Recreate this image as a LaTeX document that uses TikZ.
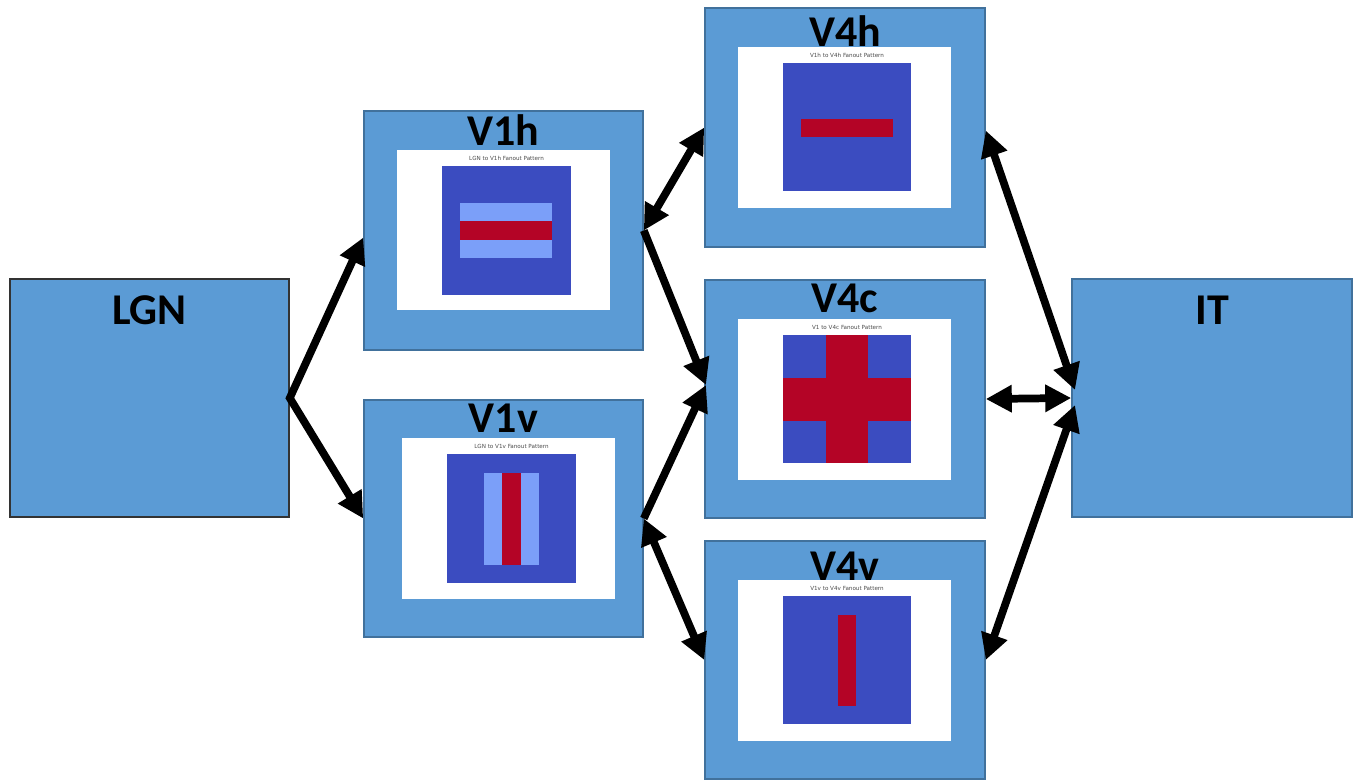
\documentclass[tikz,border=0pt]{standalone}
\usepackage{fontspec}
\usepackage{tikz}
\usetikzlibrary{arrows.meta,positioning}
\newfontfamily\areafont{Carlito}
\newfontfamily\plotfont{DejaVu Sans}
\definecolor{areablue}{HTML}{5B9BD5}
\definecolor{areaedge}{HTML}{41719C}
\definecolor{mapblue}{HTML}{3B4CC0}
\definecolor{mapmid}{HTML}{7B9FF9}
\definecolor{mapred}{HTML}{B40426}
\tikzset{
  area/.style={draw=areaedge, fill=areablue, minimum width=2.8cm, minimum height=2.38cm, inner sep=0pt},
  areaname/.style={font=\areafont\bfseries\fontsize{12.5}{14}\selectfont, inner sep=0pt},
  sheet/.style={fill=white, minimum width=2.13cm, minimum height=1.6cm, inner sep=0pt},
  fanmap/.style={fill=mapblue, minimum size=1.28cm, inner sep=0pt},
  maptitle/.style={font=\plotfont\fontsize{1.6}{2}\selectfont, text=black!70, inner sep=0pt},
  link/.style={line width=2.2pt, line join=miter, -{Triangle[length=2.6mm,width=2.6mm]}},
  dlink/.style={line width=2.2pt, line join=miter, {Triangle[length=2.6mm,width=2.6mm]}-{Triangle[length=2.6mm,width=2.6mm]}}
}

\begin{document}
\begin{tikzpicture}[x=0.01cm, y=-0.01cm]
  \useasboundingbox (0,0) rectangle (1358,779);

  % cortical areas
  \node[area, draw=black!80, minimum width=2.79cm] (lgn) at (149.5,398) {};
  \node[area, minimum width=2.79cm, minimum height=2.39cm] (v1h) at (503.5,230.5) {};
  \node[area, minimum width=2.79cm, minimum height=2.37cm] (v1v) at (503.5,518.5) {};
  \node[area, minimum height=2.39cm] (v4h) at (845,127.5) {};
  \node[area] (v4c) at (845,399) {};
  \node[area] (v4v) at (845,660) {};
  \node[area] (it) at (1212,398) {};

  \node[areaname] at ([yshift=-0.32cm]lgn.north) {LGN};
  \node[areaname] at ([yshift=-0.2cm]v1h.north) {V1h};
  \node[areaname] at ([yshift=-0.19cm]v1v.north) {V1v};
  \node[areaname] at ([yshift=-0.24cm]v4h.north) {V4h};
  \node[areaname] at ([yshift=-0.19cm]v4c.north) {V4c};
  \node[areaname] at ([yshift=-0.26cm]v4v.north) {V4v};
  \node[areaname] at ([yshift=-0.32cm]it.north) {IT};

  % fanout maps
  \node[sheet] (v1hsheet) at (503.5,230) {};
  \node[sheet] (v1vsheet) at (508.5,518.5) {};
  \node[sheet] (v4hsheet) at (844.5,127.5) {};
  \node[sheet] (v4csheet) at (844.5,399.5) {};
  \node[sheet] (v4vsheet) at (844.5,660.5) {};

  \node[fanmap, minimum size=1.29cm] (v1hmap) at (506.5,230.5) {};
  \node[fanmap, minimum size=1.29cm] (v1vmap) at (511.5,518.5) {};
  \node[fanmap] (v4hmap) at (847,127) {};
  \node[fanmap] (v4cmap) at (847,399) {};
  \node[fanmap] (v4vmap) at (847,660) {};

  \node[maptitle, above=0.4mm of v1hmap] {LGN to V1h Fanout Pattern};
  \node[maptitle, above=0.4mm of v1vmap] {LGN to V1v Fanout Pattern};
  \node[maptitle, above=0.4mm of v4hmap] {V1h to V4h Fanout Pattern};
  \node[maptitle, above=0.4mm of v4cmap] {V1 to V4c Fanout Pattern};
  \node[maptitle, above=0.4mm of v4vmap] {V1v to V4v Fanout Pattern};

  \fill[mapmid] (460,203) rectangle (552,258);
  \fill[mapred] (460,221) rectangle (552,240);
  \fill[mapmid] (484,473) rectangle (539,565);
  \fill[mapred] (502,473) rectangle (521,565);
  \fill[mapred] (801,119) rectangle (893,137);
  \fill[mapred] (826,335) rectangle (868,463);
  \fill[mapred] (783,378) rectangle (911,421);
  \fill[mapred] (838,615) rectangle (856,706);

  % connections
  \coordinate (v4cin) at (706,385);
  \coordinate (itin) at (1075,398);
  \draw[dlink] ([yshift=-0.07cm]v1h.west) -- (lgn.east) -- (v1v.west);
  \draw[dlink] (v1h.east) -- (v4h.west);
  \draw[link] (v1h.east) -- (v4cin);
  \draw[link] (v1v.east) -- (v4cin);
  \draw[dlink] (v1v.east) -- (v4v.west);
  \draw[dlink] ([yshift=-0.03cm]v4h.east) -- ([yshift=0.08cm]itin);
  \draw[dlink] (v4c.east) -- (it.west);
  \draw[dlink] (v4v.east) -- ([yshift=-0.07cm]itin);
\end{tikzpicture}
\end{document}
